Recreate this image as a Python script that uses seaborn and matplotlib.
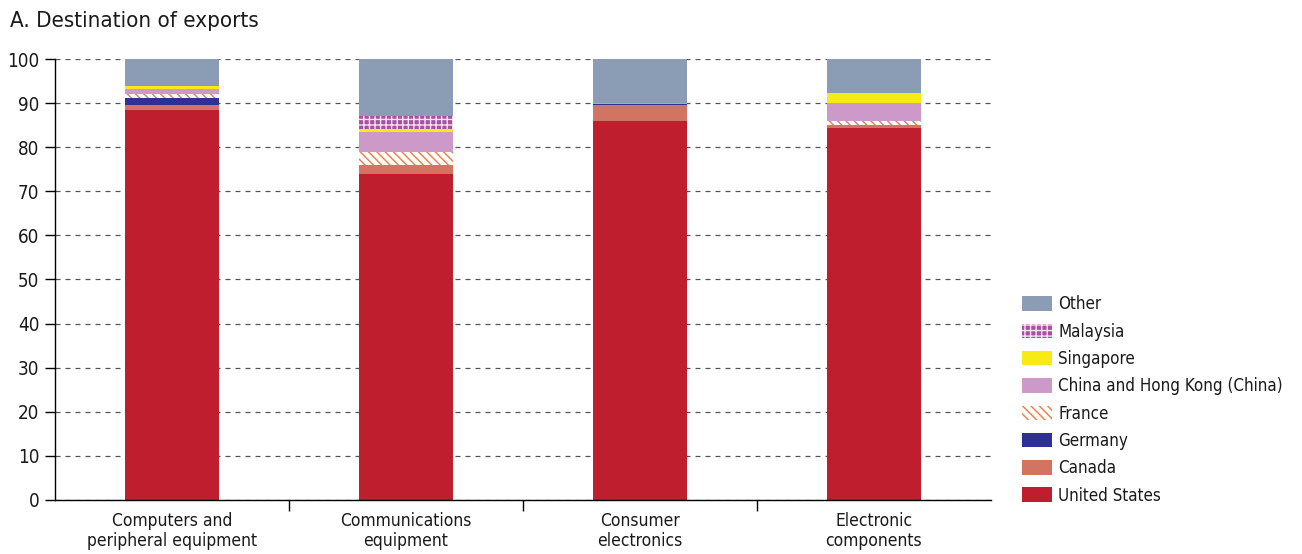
import seaborn as sns
import matplotlib.pyplot as plt
import matplotlib.patches as mpatches
import numpy as np
import pandas as pd

# categories (x axis)
categories = ["Computers and\nperipheral equipment", "Communications\nequipment",
              "Consumer\nelectronics", "Electronic\ncomponents"]

# shares of exports by destination, %
united_states = [88.4, 73.9, 86.0, 84.4]
canada = [1.1, 2.1, 3.5, 0.6]
germany = [1.7, 0.0, 0.2, 0.0]
france = [0.8, 3.0, 0.0, 1.0]
china_hk = [1.2, 4.4, 0.3, 4.0]
singapore = [0.7, 0.7, 0.0, 2.2]
malaysia = [0.0, 3.0, 0.1, 0.2]
other = [6.1, 12.9, 9.9, 7.6]

series_names = ["United States", "Canada", "Germany", "France",
                "China and Hong Kong (China)", "Singapore", "Malaysia", "Other"]
series_values = [united_states, canada, germany, france, china_hk,
                 singapore, malaysia, other]

# style per series: facecolor, hatch, hatch colour
styles = {
    "United States": ("#BE1E2D", None, None),
    "Canada": ("#D37362", None, None),
    "Germany": ("#2E3192", None, None),
    "France": ("white", "\\\\\\\\", "#F47B3B"),
    "China and Hong Kong (China)": ("#CC99C9", None, None),
    "Singapore": ("#F6EB14", None, None),
    "Malaysia": ("#A8519F", "+++", "#F3E3F1"),
    "Other": ("#8A9DB5", None, None),
}

sns.set_theme(style="white")
plt.rcParams["font.family"] = ["Liberation Sans Narrow", "DejaVu Sans"]
plt.rcParams["font.stretch"] = "condensed"
plt.rcParams["text.color"] = "#1a1a1a"
plt.rcParams["xtick.color"] = "#1a1a1a"
plt.rcParams["ytick.color"] = "#1a1a1a"
plt.rcParams["hatch.linewidth"] = 1.0

fig = plt.figure(figsize=(13.02, 5.54), dpi=100)
ax = fig.add_axes([0.042, 0.0975, 0.719, 0.796])

bottom = np.zeros(len(categories))
for name, vals in zip(series_names, series_values):
    face, hatch, hcol = styles[name]
    df = pd.DataFrame({"cat": categories, "val": vals})
    kw = dict(color=face, linewidth=0)
    if hatch:
        kw.update(hatch=hatch, edgecolor=hcol)
    sns.barplot(data=df, x="cat", y="val", bottom=bottom, width=0.4,
                saturation=1, ax=ax, errorbar=None, **kw)
    bottom += np.array(vals)

ax.set_ylim(0, 100)
ax.set_xlim(-0.5, len(categories) - 0.5)
ax.set_yticks(range(0, 101, 10))
ax.set_xlabel("")
ax.set_ylabel("")

ax.yaxis.grid(True, linestyle=(0, (4, 4)), color="#555555", linewidth=0.9)
ax.set_axisbelow(True)

for s in ["top", "right"]:
    ax.spines[s].set_visible(False)
for s in ["left", "bottom"]:
    ax.spines[s].set_color("black")
    ax.spines[s].set_linewidth(1.0)

ax.tick_params(axis="y", direction="out", length=7, width=1, colors="black",
               labelcolor="#1a1a1a", labelsize=13.5, left=True, pad=4)
ax.tick_params(axis="x", which="major", length=0, labelsize=12.5, pad=9)
ax.set_xticks([i + 0.5 for i in range(len(categories) - 1)], minor=True)
ax.tick_params(axis="x", which="minor", direction="out", length=8, width=1,
               colors="black", bottom=True)
for lbl in ax.get_xticklabels():
    lbl.set_linespacing(1.1)

fig.text(0.008, 0.962, "A. Destination of exports", fontsize=16,
         ha="left", va="center")

handles = []
for name in reversed(series_names):
    face, hatch, hcol = styles[name]
    if hatch:
        h = mpatches.Patch(facecolor=face, hatch=hatch, edgecolor=hcol,
                           linewidth=0, label=name)
    else:
        h = mpatches.Patch(facecolor=face, linewidth=0, label=name)
    handles.append(h)
fig.legend(handles=handles, loc="center left", bbox_to_anchor=(0.7795, 0.278),
           frameon=False, fontsize=12.2, handlelength=1.8, handleheight=0.95,
           handletextpad=0.35, labelspacing=0.55, borderaxespad=0)

fig.savefig("out.png", dpi=100)
